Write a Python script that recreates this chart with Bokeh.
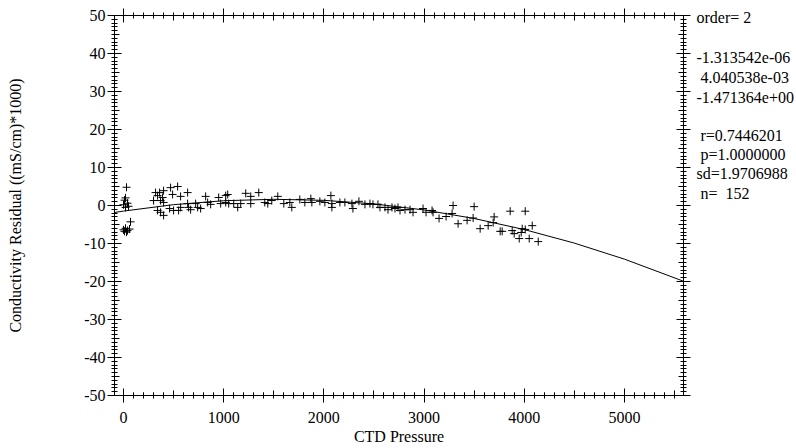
from bokeh.plotting import figure
from bokeh.models import LinearAxis, FixedTicker, Range1d, Title
from bokeh.embed import file_html
from bokeh.resources import INLINE

# ---------------- data ----------------
pressure = [30, 20, 10, 40, 0, 50, 20, 70, 20, 0, 40, 30, 10, 60,
            320, 360, 400, 340, 390, 300, 370, 400, 340, 370, 400, 470, 540, 490, 570, 640,
            460, 500, 550, 570, 640, 650, 670, 720, 740, 770, 820, 840, 870, 950, 970, 1020, 1020,
            1040, 1050, 1100, 1140, 1170, 1220, 1270, 1270, 1350, 1410, 1440, 1480, 1540, 1600,
            1660, 1680, 1760, 1810, 1870, 1880, 1960, 2010, 2070, 2080, 2080, 2160,
            2210, 2280, 2290, 2350, 2410, 2460, 2490, 2540, 2560, 2610, 2640, 2680, 2710, 2740,
            2760, 2810, 2860, 2890, 2990, 3020, 3080, 3090, 3150, 3220, 3280, 3290, 3340,
            3430, 3500, 3490, 3560, 3640, 3700, 3690, 3760, 3780, 3860, 3880, 3900, 3950,
            3970, 3980, 4010, 4010, 4050, 4080, 4140]
residual = [4.8, 2.0, 1.4, 0.6, 0.2, -0.2, -0.5, -4.3, -6.0, -6.4, -6.6, -7.0, -6.8, -6.2,
            3.4, 3.4, 3.9, 2.6, 2.1, 1.3, 1.3, 0.8, -1.3, -1.8, -2.6, 4.7, 5.0, 2.9, 2.4, 3.4,
            -0.8, -1.3, -1.3, -0.5, 0.5, -0.5, -1.1, 0.5, -0.5, -0.8, 2.4, 0.8, 0.3, 2.1, 0.5, 2.6, 0.8,
            2.9, 0.5, 0.5, -0.5, 0.5, 3.2, 2.4, 0.5, 3.4, 0.8, 0.5, 1.3, 2.4, 0.5,
            0.8, -0.5, 1.6, 0.8, 1.8, 0.8, 1.1, 0.8, 2.6, 0.5, -0.5, 0.8,
            0.8, 0.5, -0.8, 1.1, 0.3, 0.5, 0.3, 0.3, -0.5, -0.5, -1.1, -0.5, -0.8, -0.5,
            -1.3, -1.1, -1.1, -1.8, -0.8, -1.8, -1.3, -1.8, -3.4, -2.9, -2.1, 0.0, -4.8,
            -3.9, -0.3, -3.3, -6.1, -5.3, -3.0, -4.5, -6.8, -6.8, -1.5, -6.6, -7.4, -8.7,
            -7.1, -6.1, -6.3, -1.5, -8.7, -5.3, -9.5]

fit_pressure = [-90, 0, 500, 1000, 1500, 2000, 2500, 3000, 3500, 4000, 4500, 5000, 5590]
fit_residual = [-1.84, -1.47, 0.22, 1.26, 1.63, 1.36, 0.42, -1.17, -3.42, -6.33, -9.89, -14.11, -19.93]

x_tick_values = [0, 1000, 2000, 3000, 4000, 5000]
x_tick_labels = ["0", "1000", "2000", "3000", "4000", "5000"]
x_mid_values = [500, 1500, 2500, 3500, 4500, 5500]
x_minor_values = list(range(0, 5600, 100))

y_tick_values = [-50, -40, -30, -20, -10, 0, 10, 20, 30, 40, 50]
y_tick_labels = ["-50", "-40", "-30", "-20", "-10", "0", "10", "20", "30", "40", "50"]
y_mid_values = [-45, -35, -25, -15, -5, 5, 15, 25, 35, 45]
y_minor_values = list(range(-50, 51, 1))

fit_text = ["order= 2", "-1.313542e-06", "\u00a04.040538e-03", "-1.471364e+00",
            "\u00a0r=0.7446201", "\u00a0p=1.0000000", "sd=1.9706988", "\u00a0n=\u00a0\u00a0152"]
fit_text_px = [2, 42, 62, 82, 120, 139, 158, 178]   # pixels below the frame top

FONT = "Liberation Serif"
X0, X1 = -90, 5590
Y0, Y1 = -50, 50
FRAME_H = 380

p = figure(width=796, height=448, output_backend="svg", toolbar_location=None,
           x_range=Range1d(X0, X1), y_range=Range1d(Y0, Y1),
           x_axis_location=None, y_axis_location=None,
           min_border_left=114, min_border_right=112, min_border_top=15, min_border_bottom=53)
p.grid.visible = False
p.outline_line_color = None
p.background_fill_color = "white"
p.border_fill_color = "white"


def mid_axis(ticks, minor=None):
    # inward-only ticks; zero size, so the next axis on the same side sits on top of it
    ax = LinearAxis(ticker=FixedTicker(ticks=ticks, minor_ticks=minor or []))
    ax.axis_line_color = None
    ax.major_tick_line_color = "black"
    ax.minor_tick_line_color = "black" if minor else None
    ax.major_label_text_color = None
    ax.major_label_standoff = 0
    ax.major_tick_in = 5
    ax.major_tick_out = 0
    ax.minor_tick_in = 3 if minor else 0
    ax.minor_tick_out = 0
    return ax


def main_axis(major, minor, labels):
    ax = LinearAxis(ticker=FixedTicker(ticks=major, minor_ticks=minor))
    ax.axis_line_color = "black"
    ax.major_tick_line_color = "black"
    ax.minor_tick_line_color = "black"
    ax.major_tick_in = 7
    ax.major_tick_out = 7
    ax.minor_tick_in = 3
    ax.minor_tick_out = 3
    ax.major_label_text_font = FONT
    ax.major_label_text_font_size = "16px"
    ax.axis_label_text_font = FONT
    ax.axis_label_text_font_style = "normal"
    ax.axis_label_text_font_size = "16px"
    ax.axis_label_text_color = "black"
    if labels is None:
        ax.major_label_text_color = None      # ticks only, no tick labels
        ax.major_label_standoff = 0
    else:
        ax.major_label_overrides = {v: t for v, t in zip(major, labels)}
        ax.major_label_text_color = "black"
    return ax


# bottom
p.add_layout(mid_axis(x_mid_values, x_minor_values), "below")
xb = main_axis(x_tick_values, x_minor_values, x_tick_labels)
xb.major_label_standoff = 9
p.add_layout(xb, "below")
p.add_layout(Title(text="CTD Pressure", align="center", standoff=0,
                   text_font=FONT, text_font_size="16px", text_font_style="normal",
                   text_color="black"), "below")

# left
p.add_layout(mid_axis(y_mid_values), "left")
yl = main_axis(y_tick_values, y_minor_values, y_tick_labels)
yl.axis_label = "Conductivity Residual ((mS/cm)*1000)"
yl.major_label_standoff = 2
yl.axis_label_standoff = 57
p.add_layout(yl, "left")

# top
p.add_layout(mid_axis(x_mid_values), "above")
p.add_layout(main_axis(x_tick_values, x_minor_values, None), "above")

# right
p.add_layout(mid_axis(y_mid_values), "right")
p.add_layout(main_axis(y_tick_values, y_minor_values, None), "right")

# fit summary text, drawn as the labels of a tick-less right axis
text_y = [Y1 - px * (Y1 - Y0) / FRAME_H for px in fit_text_px]
ta = LinearAxis(ticker=FixedTicker(ticks=text_y, minor_ticks=[]))
ta.major_label_overrides = {v: t for v, t in zip(text_y, fit_text)}
ta.axis_line_color = None
ta.major_tick_line_color = None
ta.minor_tick_line_color = None
ta.major_tick_in = 0
ta.major_tick_out = 0
ta.major_label_standoff = 6
ta.major_label_text_font = FONT
ta.major_label_text_font_size = "16px"
ta.major_label_text_color = "black"
ta.major_label_text_align = "left"
p.add_layout(ta, "right")

p.line(fit_pressure, fit_residual, line_color="black", line_width=1)
p.scatter(pressure, residual, marker="cross", size=8, line_color="black", line_width=1)

open("out.html", "w").write(file_html(p, INLINE))
